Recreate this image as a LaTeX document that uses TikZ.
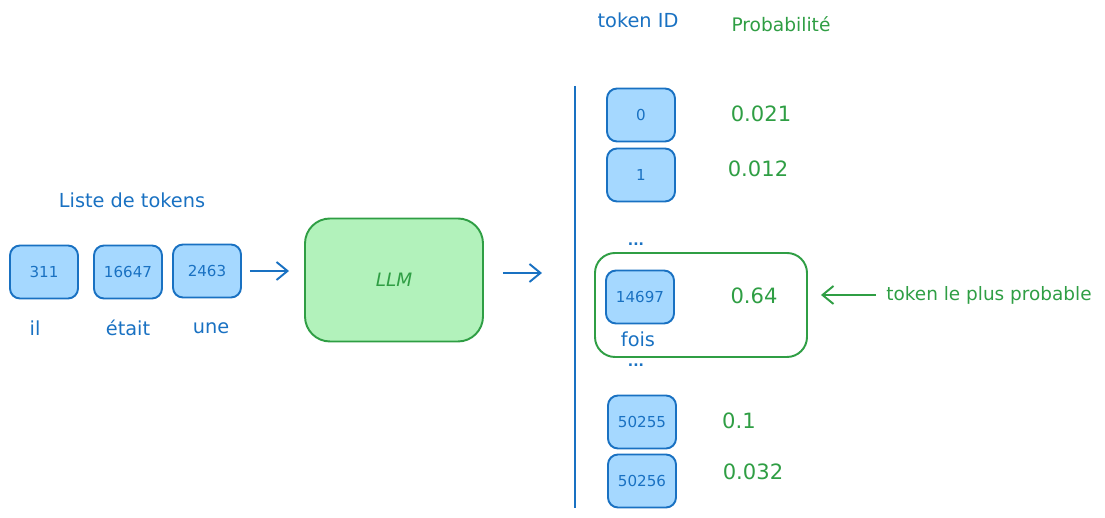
\documentclass[tikz,border=0pt]{standalone}
\usepackage{fontspec}
\setmainfont{DejaVu Sans}
\usetikzlibrary{arrows.meta}
\definecolor{inkblue}{HTML}{1971C2}
\definecolor{fillblue}{HTML}{A5D8FF}
\definecolor{inkgreen}{HTML}{2F9E44}
\definecolor{fillgreen}{HTML}{B2F2BB}
\tikzset{
  tok/.style={
    draw=inkblue,
    fill=fillblue,
    line width=1.1pt,
    rounded corners=2mm,
    minimum width=13.6mm,
    minimum height=10.6mm,
    inner sep=0pt,
    text=inkblue,
    font=\fontsize{8.6}{10}\selectfont
  },
  word/.style={text=inkblue,font=\fontsize{11}{13}\selectfont},
  prob/.style={text=inkgreen,font=\fontsize{12}{14}\selectfont},
  dots/.style={text=inkblue,inner sep=0pt,anchor=base,font=\bfseries\fontsize{8}{9}\selectfont},
  flow/.style={draw=inkblue,line width=1.1pt,-{Straight Barb[length=2.2mm,width=3.6mm]}}
}

\begin{document}
\begin{tikzpicture}[x=0.2mm,y=-0.2mm]
  \useasboundingbox (0,0) rectangle (1105,518);

  \node[word] (title) at (132,200) {Liste de tokens};
  \node[tok] (t1) at (44,272) {311};
  \node[tok] (t2) at (128,272) {16647};
  \node[tok] (t3) at (207,271) {2463};
  \node[word] (w1) at (35,328) {il};
  \node[word] (w2) at (128,328) {était};
  \node[word] (w3) at (211,328) {une};

  \node[draw=inkgreen,fill=fillgreen,line width=1.1pt,rounded corners=5mm,
        minimum width=35.6mm,minimum height=24.6mm,text=inkgreen,
        font=\fontsize{10.5}{12}\selectfont\itshape] (llm) at (394,280) {LLM};
  \draw[flow,shorten <=8*0.2mm,shorten >=15*0.2mm] (t3.east) -- (t3.east -| llm.west);

  \coordinate (axtop) at (575,86);
  \coordinate (axbot) at (575,508);
  \draw[inkblue,line width=1.2pt] (axtop) -- (axbot);
  \draw[flow,shorten <=19*0.2mm,shorten >=33*0.2mm] (llm.east |- 0,273) -- (axtop |- 0,273);

  \node[word] (hid) at (638,20) {token ID};
  \node[prob,font=\fontsize{10.6}{12}\selectfont] (hprob) at (781,24) {Probabilité};

  \node[tok] (id0) at (641,115) {0};
  \node[tok] (id1) at (641,175) {1};
  \node[prob] (p0) at (761,114) {0.021};
  \node[prob] (p1) at (758,169) {0.012};
  \node[dots] (dots1) at (636,246) {...};

  \node[draw=inkgreen,line width=1.1pt,rounded corners=4mm,
        minimum width=42.4mm,minimum height=20.8mm] (best) at (701,305) {};
  \node[tok] (id2) at (640,297) {14697};
  \node[prob] (p2) at (754,296) {0.64};
  \node[word] (w4) at (638,339) {fois};
  \node[dots] (dots2) at (636,367) {...};

  \node[prob,font=\fontsize{10.5}{12}\selectfont] (note) at (989,295) {token le plus probable};
  \draw[inkgreen,line width=1.1pt,-{Straight Barb[length=2.2mm,width=3.6mm]},
        shorten <=4*0.2mm,shorten >=13*0.2mm] (note.west) -- (best.east |- note.west);

  \node[tok] (id3) at (642,422) {50255};
  \node[tok] (id4) at (642,481) {50256};
  \node[prob] (p3) at (739,421) {0.1};
  \node[prob] (p4) at (753,472) {0.032};
\end{tikzpicture}
\end{document}
